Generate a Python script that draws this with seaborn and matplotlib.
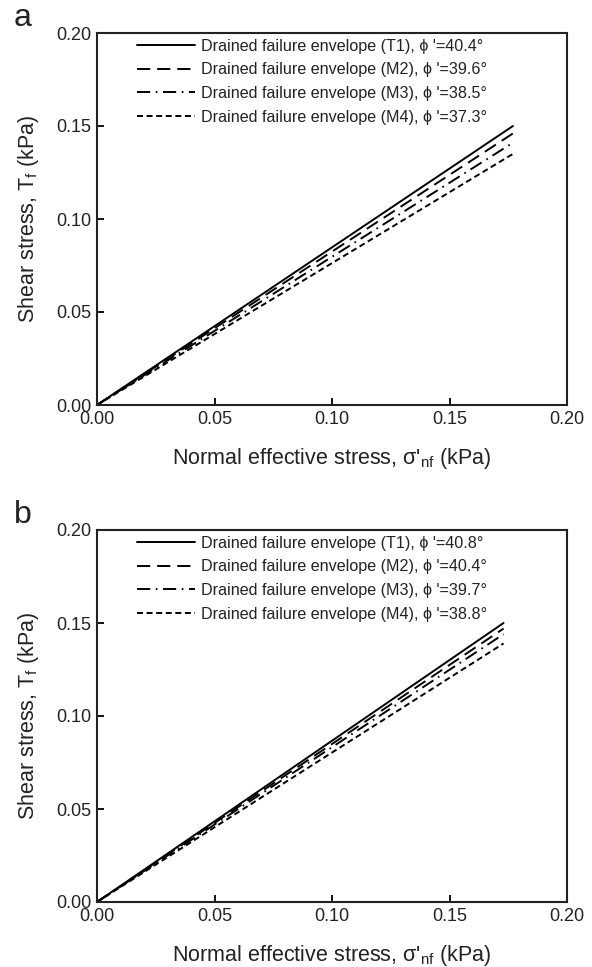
import numpy as np
import pandas as pd
import matplotlib
matplotlib.use("Agg")
import matplotlib.pyplot as plt
import seaborn as sns

# ---------------- data ----------------
series = ["T1", "M2", "M3", "M4"]
phi_a = [40.4, 39.6, 38.5, 37.3]
phi_b = [40.8, 40.4, 39.7, 38.8]
x_end_a = 0.177
y_end_a = [0.150, 0.146, 0.141, 0.135]
x_end_b = 0.173
y_end_b = [0.150, 0.147, 0.144, 0.139]
x_ticks = [0.00, 0.05, 0.10, 0.15, 0.20]
y_ticks = [0.00, 0.05, 0.10, 0.15, 0.20]
tick_labels = ["0.00", "0.05", "0.10", "0.15", "0.20"]
panel_letters = ["a", "b"]

sns.set_style("ticks")
plt.rcParams["font.family"] = ["Liberation Sans", "DejaVu Sans"]
plt.rcParams["mathtext.default"] = "regular"
plt.rcParams["lines.scale_dashes"] = False

W, H = 592, 967
fig = plt.figure(figsize=(W / 100, H / 100), dpi=100)

# dash patterns in points
dash_styles = ["", (9.5, 5.0), (9.5, 4.0, 1.2, 4.0), (4.3, 2.6)]


def make_df(phi, x_end, y_end):
    rows = []
    for s, p, ye in zip(series, phi, y_end):
        lab = f"Drained failure envelope ({s}), \u03d5 '={p:.1f}\u00b0"
        rows.append({"x": 0.0, "y": 0.0, "label": lab})
        rows.append({"x": x_end, "y": ye, "label": lab})
    return pd.DataFrame(rows)


def px_rect(l, t, r, b):
    return [l / W, 1 - b / H, (r - l) / W, (b - t) / H]


panels = [
    (make_df(phi_a, x_end_a, y_end_a), px_rect(97, 33, 567, 405), 18),
    (make_df(phi_b, x_end_b, y_end_b), px_rect(97, 530, 567, 902), 515),
]

for i, (df, rect, ly) in enumerate(panels):
    ax = fig.add_axes(rect)
    labels = list(dict.fromkeys(df["label"]))
    dash_map = {lab: d for lab, d in zip(labels, dash_styles)}
    sns.lineplot(data=df, x="x", y="y", hue="label", style="label",
                 palette=["black"] * 4, dashes=dash_map, estimator=None,
                 sort=False, linewidth=1.4, ax=ax)
    ax.set_xlim(0, 0.2)
    ax.set_ylim(0, 0.2)
    ax.set_xticks(x_ticks)
    ax.set_xticklabels(tick_labels)
    ax.set_yticks(y_ticks)
    ax.set_yticklabels(tick_labels)
    ax.tick_params(direction="in", length=5, width=1.3, labelsize=13,
                   color="black", labelcolor="#222222", pad=4)
    for sp in ax.spines.values():
        sp.set_visible(True)
        sp.set_linewidth(1.5)
        sp.set_color("#222222")
    ax.set_xlabel("Normal effective stress, \u03c3'$_{nf}$ (kPa)",
                  fontsize=15.5, color="#222222", labelpad=13)
    ax.set_ylabel("Shear stress, T$_{f}$ (kPa)", fontsize=15.5,
                  color="#222222", labelpad=11)
    handles, labs = ax.get_legend_handles_labels()
    leg = ax.legend(handles, labs, loc="upper left",
                    bbox_to_anchor=(0.085, 0.985), frameon=False,
                    fontsize=11.6, handlelength=3.6, handletextpad=0.4,
                    labelspacing=0.54, borderpad=0, borderaxespad=0)
    for t in leg.get_texts():
        t.set_color("#222222")
    fig.text(23 / W, 1 - ly / H, panel_letters[i],
             fontsize=23, ha="center", va="center", color="#222222")

fig.savefig("out.png", dpi=100)
